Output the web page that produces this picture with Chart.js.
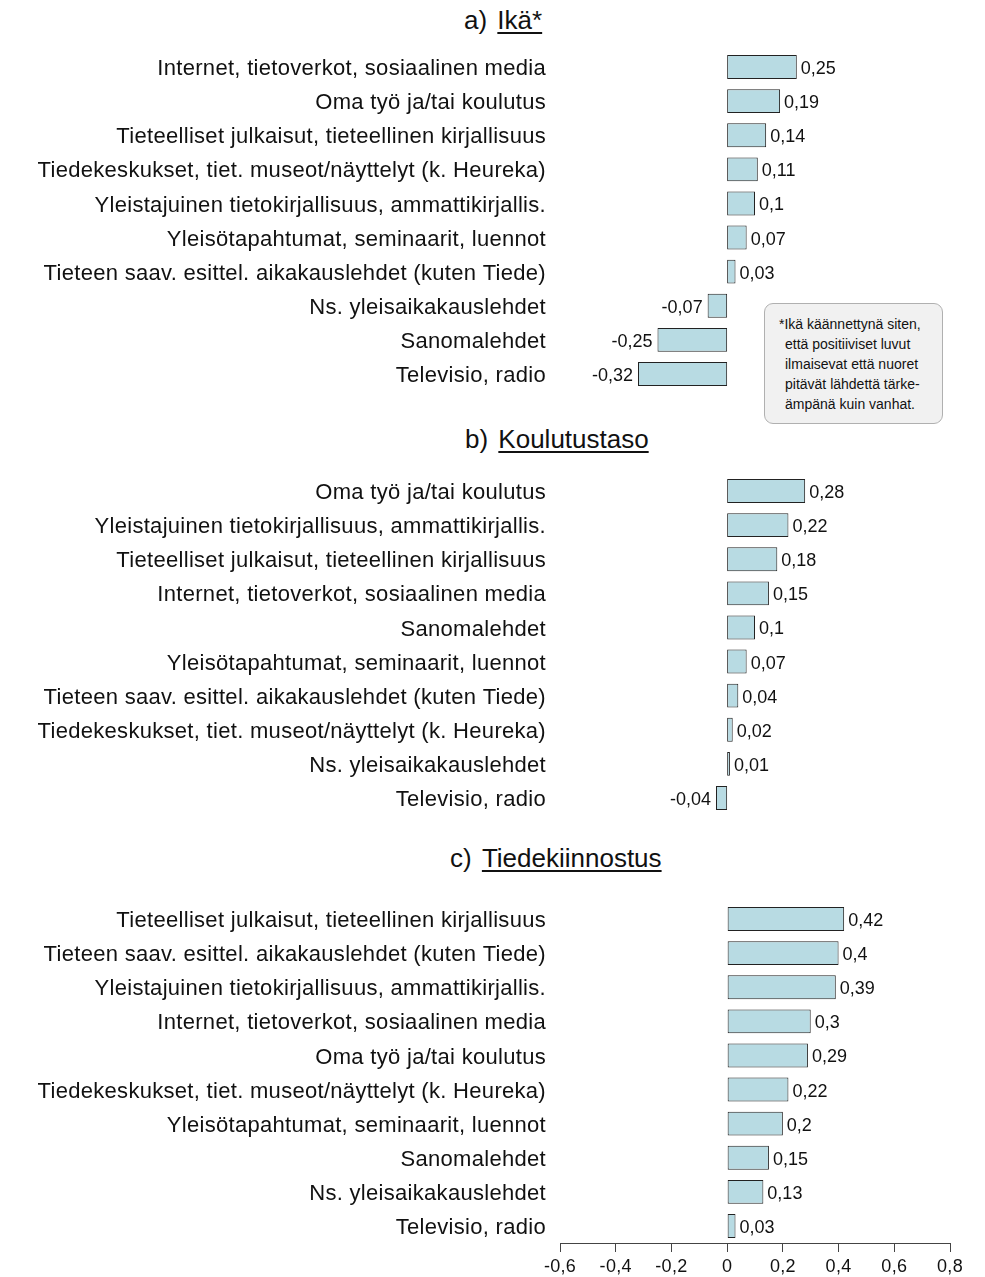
<!DOCTYPE html>
<html>
<head>
<meta charset="utf-8">
<script src="https://cdn.jsdelivr.net/npm/chart.js@4/dist/chart.umd.min.js"></script>
<style>
  body { margin: 0; background: #fff; font-family: "Liberation Sans", Arial, sans-serif; }
  #wrap { position: relative; width: 985px; height: 1277px; overflow: hidden; }
  .box { position: absolute; left: 0; width: 985px; }
  .title { position: absolute; font-size: 26px; color: #111; white-space: pre; line-height: 1; }
  .title u { display: inline-block; margin-left: 3px; text-decoration-thickness: 2px; text-underline-offset: 3px; }
  #note {
    position: absolute; left: 764px; top: 303px; width: 179px; height: 121px;
    box-sizing: border-box; background: #f1f1f1; border: 1px solid #b0b0b0; border-radius: 9px;
    font-size: 14px; line-height: 20px; color: #111; padding: 10px 0 0 20px; text-indent: -6px;
  }
</style>
</head>
<body>
<div id="wrap">
  <div class="title" style="left:464px; top:7px;">a) <u>Ikä*</u></div>
  <div class="title" style="left:465px; top:426px;">b) <u>Koulutustaso</u></div>
  <div class="title" style="left:450px; top:845px;">c) <u>Tiedekiinnostus</u></div>

  <div class="box" style="top:50px; height:341px;"><canvas id="chartA"></canvas></div>
  <div class="box" style="top:474px; height:341px;"><canvas id="chartB"></canvas></div>
  <div class="box" style="top:902px; height:377px;"><canvas id="chartC"></canvas></div>

  <div id="note">*Ikä käännettynä siten,<br>että positiiviset luvut<br>ilmaisevat että nuoret<br>pitävät lähdettä tärke-<br>ämpänä kuin vanhat.</div>
</div>

<script>
// ===== DATA =====
const ageLabels = [
  "Internet, tietoverkot, sosiaalinen media",
  "Oma työ ja/tai koulutus",
  "Tieteelliset julkaisut, tieteellinen kirjallisuus",
  "Tiedekeskukset, tiet. museot/näyttelyt (k. Heureka)",
  "Yleistajuinen tietokirjallisuus, ammattikirjallis.",
  "Yleisötapahtumat, seminaarit, luennot",
  "Tieteen saav. esittel. aikakauslehdet (kuten Tiede)",
  "Ns. yleisaikakauslehdet",
  "Sanomalehdet",
  "Televisio, radio"
];
const ageValues = [0.25, 0.19, 0.14, 0.11, 0.1, 0.07, 0.03, -0.07, -0.25, -0.32];

const eduLabels = [
  "Oma työ ja/tai koulutus",
  "Yleistajuinen tietokirjallisuus, ammattikirjallis.",
  "Tieteelliset julkaisut, tieteellinen kirjallisuus",
  "Internet, tietoverkot, sosiaalinen media",
  "Sanomalehdet",
  "Yleisötapahtumat, seminaarit, luennot",
  "Tieteen saav. esittel. aikakauslehdet (kuten Tiede)",
  "Tiedekeskukset, tiet. museot/näyttelyt (k. Heureka)",
  "Ns. yleisaikakauslehdet",
  "Televisio, radio"
];
const eduValues = [0.28, 0.22, 0.18, 0.15, 0.1, 0.07, 0.04, 0.02, 0.01, -0.04];

const interestLabels = [
  "Tieteelliset julkaisut, tieteellinen kirjallisuus",
  "Tieteen saav. esittel. aikakauslehdet (kuten Tiede)",
  "Yleistajuinen tietokirjallisuus, ammattikirjallis.",
  "Internet, tietoverkot, sosiaalinen media",
  "Oma työ ja/tai koulutus",
  "Tiedekeskukset, tiet. museot/näyttelyt (k. Heureka)",
  "Yleisötapahtumat, seminaarit, luennot",
  "Sanomalehdet",
  "Ns. yleisaikakauslehdet",
  "Televisio, radio"
];
const interestValues = [0.42, 0.4, 0.39, 0.3, 0.29, 0.22, 0.2, 0.15, 0.13, 0.03];

const axisMin = -0.6;
const axisMax = 0.8;
const axisStep = 0.2;

// ===== HELPERS =====
Chart.defaults.font.family = "'Liberation Sans', Arial, sans-serif";
Chart.defaults.color = "#111";

const fmt = v => String(Math.round(v * 100) / 100).replace(".", ",");

// slightly wider lettering for the category labels
const spacing = {
  id: "spacing",
  beforeDraw(chart) { chart.ctx.letterSpacing = "0.3px"; }
};

const valueLabels = {
  id: "valueLabels",
  afterDatasetsDraw(chart) {
    const ctx = chart.ctx;
    const meta = chart.getDatasetMeta(0);
    const data = chart.data.datasets[0].data;
    ctx.save();
    ctx.letterSpacing = "0px";
    ctx.font = "18px 'Liberation Sans', Arial, sans-serif";
    ctx.fillStyle = "#111";
    ctx.textBaseline = "middle";
    meta.data.forEach((bar, i) => {
      const v = data[i];
      if (v >= 0) {
        ctx.textAlign = "left";
        ctx.fillText(fmt(v), bar.x + 4, bar.y + 2);
      } else {
        ctx.textAlign = "right";
        ctx.fillText(fmt(v), bar.x - 5, bar.y + 2);
      }
    });
    ctx.restore();
  }
};

function makeChart(canvasId, labels, values, showAxis) {
  const ctx = document.getElementById(canvasId);
  return new Chart(ctx, {
    type: "bar",
    data: {
      labels,
      datasets: [{
        data: values,
        backgroundColor: "#b8dbe3",
        borderColor: "#222",
        borderWidth: 1,
        borderSkipped: false,
        barPercentage: 0.7,
        categoryPercentage: 1
      }]
    },
    plugins: [spacing, valueLabels],
    options: {
      indexAxis: "y",
      responsive: true,
      maintainAspectRatio: false,
      animation: false,
      layout: { padding: { left: 0, right: 35, top: 0, bottom: 0 } },
      plugins: {
        legend: { display: false },
        tooltip: { enabled: false }
      },
      scales: {
        x: {
          display: showAxis,
          min: axisMin,
          max: axisMax,
          afterFit: s => { s.height = showAxis ? 36 : 0; },
          ticks: {
            stepSize: axisStep,
            color: "#111",
            font: { size: 18 },
            padding: 4,
            callback: v => fmt(v)
          },
          grid: { drawOnChartArea: false, drawTicks: true, tickLength: 9, color: "#444" },
          border: { display: true, color: "#444", width: 1 }
        },
        y: {
          afterFit: s => { s.width = 560; s.paddingTop = 0; s.paddingBottom = 0; },
          ticks: { color: "#111", font: { size: 22 }, padding: 14, labelOffset: 2 },
          grid: { display: false, drawTicks: false },
          border: { display: false }
        }
      }
    }
  });
}

// ===== INIT CHARTS =====
makeChart("chartA", ageLabels, ageValues, false);
makeChart("chartB", eduLabels, eduValues, false);
makeChart("chartC", interestLabels, interestValues, true);
</script>
</body>
</html>
